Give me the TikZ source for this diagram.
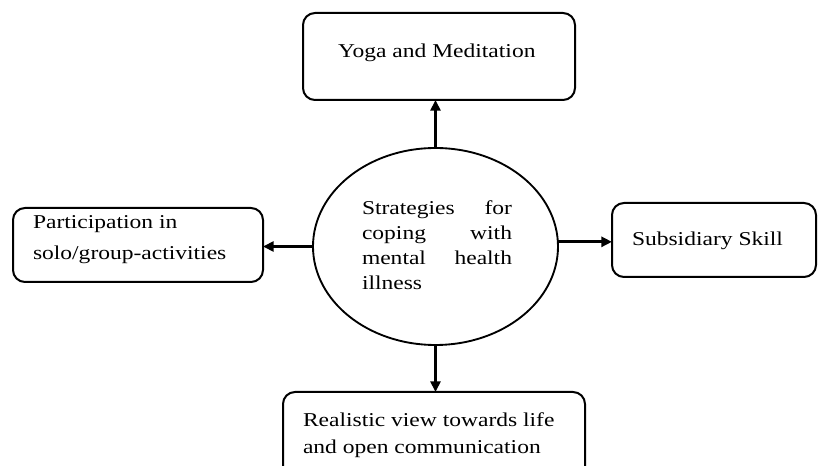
\documentclass[tikz,border=0pt]{standalone}
\usepackage{fontspec}
\setmainfont[FakeStretch=1.2]{Liberation Serif}
\usetikzlibrary{shapes.geometric,arrows.meta}
\begin{document}
\begin{tikzpicture}[x=0.75pt,y=-0.75pt,
  box/.style={draw,line width=1.5pt,rounded corners=9pt,inner sep=0pt,outer sep=0pt,rectangle},
  txt/.style={inner sep=0pt,outer sep=0pt,align=left,anchor=north west,font=\fontsize{14.7pt}{22.5pt}\selectfont},
  conn/.style={line width=2.2pt,-{Triangle[length=8pt,width=7.5pt]}}]
\useasboundingbox (0,0) rectangle (819,466);
\clip (0,0) rectangle (819,466);
\node[box,minimum width=204pt,minimum height=65.25pt] (yoga) at (439,56.5) {};
\node[box,minimum width=187.5pt,minimum height=55.5pt] (part) at (138,245) {};
\node[box,minimum width=153pt,minimum height=55.5pt] (sub) at (714,240) {};
\node[box,minimum width=226.5pt,minimum height=73.5pt] (real) at (434,441) {};
\node[draw,ellipse,line width=1.4pt,inner sep=0pt,outer sep=0pt,minimum width=183.75pt,minimum height=147.75pt] (ell) at (435.5,246.5) {};
\node[txt] (yogat) at (338,44) {Yoga and Meditation};
\node[txt,text width=112.5pt,align=justify,font=\fontsize{14.7pt}{18.75pt}\selectfont] (ellt) at (362,201) {\hyphenpenalty=10000\tolerance=10000 Strategies for coping with mental health illness};
\node[txt,font=\fontsize{14.7pt}{23pt}\selectfont] (partt) at (33,216) {Participation in\\solo/group-activities};
\node[txt] (subt) at (632,232) {Subsidiary Skill};
\node[txt,font=\fontsize{14.7pt}{20.25pt}\selectfont] (realt) at (303,413) {Realistic view towards life\\and open communication};
\draw[conn] (ell.north) -- (ell.north |- yoga.south);
\draw[conn] (ell.west) -- (ell.west -| part.east);
\draw[conn] ([yshift=3.5pt]ell.east) -- ([yshift=3.5pt]ell.east -| sub.west);
\draw[conn] (ell.south) -- (ell.south |- real.north);
\end{tikzpicture}
\end{document}
